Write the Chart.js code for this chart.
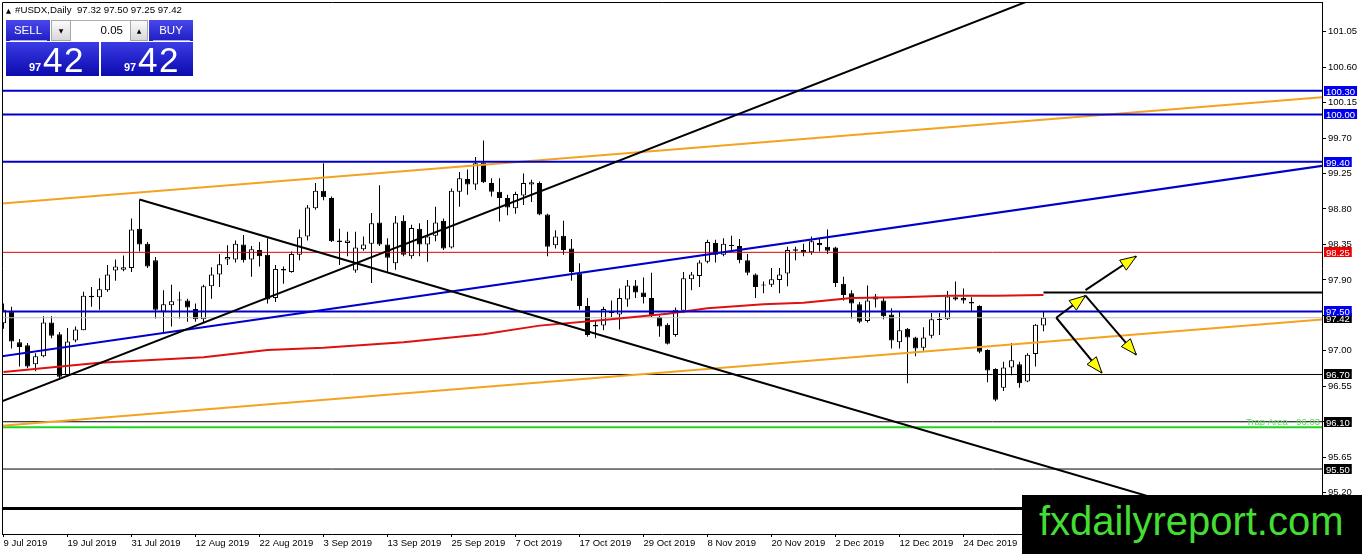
<!DOCTYPE html>
<html><head><meta charset="utf-8">
<script src="https://cdn.jsdelivr.net/npm/chart.js@4.4.1/dist/chart.umd.min.js"></script>
<style>
html,body{margin:0;padding:0;background:#fff;overflow:hidden;width:1362px;height:554px;position:relative;font-family:'Liberation Sans',Arial,sans-serif}
canvas{position:absolute;left:0;top:0}
.a{position:absolute;white-space:pre}
.btn{position:absolute;top:20px;height:21px;background:linear-gradient(#4848ec,#1e1ec2);color:#fff;font-size:11.5px;line-height:21px;text-align:center}
.btn:after{content:"";position:absolute;left:4px;right:3px;bottom:0;height:1px;background:#a4a4ff}
.spin{position:absolute;top:20px;height:21px;box-sizing:border-box;background:linear-gradient(#fbfbfb,#d8d8d8);border:1px solid #a8a8a8;font-family:'DejaVu Sans';font-size:6px;line-height:19px;text-align:center;color:#000}
.big{position:absolute;top:42px;height:34px;background:linear-gradient(#3c3ce6,#0a0aae);color:#fff}
.sm{position:absolute;top:20.3px;font-weight:bold;font-size:11px;line-height:11px}
.lg{position:absolute;top:0.1px;font-size:35px;line-height:35px;letter-spacing:1.5px}
</style></head>
<body>
<canvas id="c" width="1362" height="554"></canvas>

<div class="a" style="left:6px;top:7.5px;font-family:'DejaVu Sans';font-size:6.5px;line-height:7px">▲</div>
<div class="a" style="left:15px;top:4.4px;font-size:9.7px;line-height:11px;color:#000">#USDX,Daily  97.32 97.50 97.25 97.42</div>

<div class="btn" style="left:6px;width:44px">SELL</div>
<div class="spin" style="left:51px;width:20px">▼</div>
<div class="a" style="left:71px;top:20px;width:59px;height:21px;background:#fff;border-top:1px solid #b0b0b0;box-sizing:border-box;font-size:11.5px;line-height:19px;text-align:right;padding-right:7px;color:#000">0.05</div>
<div class="spin" style="left:130px;width:18px">▲</div>
<div class="btn" style="left:149px;width:44px">BUY</div>

<div class="big" style="left:6px;width:93px"><span class="sm" style="left:23px">97</span><span class="lg" style="left:37px">42</span></div>
<div class="big" style="left:101px;width:92px"><span class="sm" style="left:23px">97</span><span class="lg" style="left:37px">42</span></div>

<div class="a" style="left:1022px;top:495px;width:340px;height:59px;background:#000;overflow:hidden">
  <span class="a" style="left:17px;top:6.1px;font-size:40px;line-height:40px;color:#44dd33">fxdailyreport.com</span>
</div>

<script>
// ---------- DATA ----------
const tickBars = [0, 8, 16, 24, 32, 40, 48, 56, 64, 72, 80, 88, 96, 104, 112, 120];
const tickLabels = ["9 Jul 2019","19 Jul 2019","31 Jul 2019","12 Aug 2019","22 Aug 2019","3 Sep 2019","13 Sep 2019","25 Sep 2019","7 Oct 2019","17 Oct 2019","29 Oct 2019","8 Nov 2019","20 Nov 2019","2 Dec 2019","12 Dec 2019","24 Dec 2019"];
const priceTicks = [95.20, 95.65, 96.10, 96.55, 97.00, 97.45, 97.90, 98.35, 98.80, 99.25, 99.70, 100.15, 100.60, 101.05];

const open = [97.35,97.50,97.11,97.07,96.83,96.93,97.36,97.21,96.69,97.13,
97.26,97.70,97.68,97.77,98.02,98.03,98.05,98.55,98.36,98.15,
97.50,97.58,97.65,97.64,97.53,97.40,97.82,97.97,98.16,98.16,
98.35,98.16,98.28,98.22,97.67,98.02,98.00,98.22,98.45,98.81,
99.03,98.94,98.40,98.37,98.02,98.29,98.36,98.63,98.35,98.11,
98.65,98.20,98.55,98.35,98.46,98.65,98.31,99.02,99.18,99.11,
99.39,99.13,99.02,98.94,98.81,98.97,99.11,99.13,98.73,98.34,
98.46,98.30,97.98,97.57,97.31,97.32,97.50,97.46,97.65,97.83,
97.74,97.67,97.43,97.33,97.20,97.51,97.91,97.95,98.13,98.37,
98.22,98.34,98.33,98.15,97.97,97.84,97.84,97.90,97.98,98.27,
98.28,98.25,98.37,98.32,98.31,97.85,97.73,97.59,97.38,97.69,
97.64,97.46,97.11,97.28,97.17,97.04,97.19,97.40,97.40,97.68,
97.67,97.62,97.57,97.01,96.77,96.53,96.79,96.83,96.61,96.96,
97.32];
const high = [97.60,97.56,97.15,97.10,96.97,97.44,97.44,97.24,97.29,97.31,
97.75,97.81,97.92,98.09,98.16,98.21,98.68,98.92,98.38,98.19,
97.77,97.84,97.75,97.66,97.60,97.84,98.06,98.23,98.34,98.40,
98.47,98.33,98.38,98.43,98.09,98.07,98.26,98.54,98.85,99.13,
99.38,98.96,98.55,98.51,98.51,98.45,98.75,99.10,98.43,98.71,
98.72,98.60,98.62,98.66,98.83,98.68,99.06,99.27,99.30,99.46,
99.67,99.19,99.19,98.98,99.02,99.25,99.17,99.15,98.74,98.53,
98.65,98.42,98.11,97.67,97.39,97.56,97.64,97.79,97.90,97.90,
97.93,97.99,97.45,97.35,97.55,98.00,98.00,98.15,98.41,98.41,
98.43,98.46,98.42,98.23,97.98,97.88,98.05,98.05,98.32,98.32,
98.36,98.45,98.43,98.54,98.32,97.94,97.77,97.62,97.83,97.72,
97.67,97.54,97.50,97.29,97.18,97.30,97.48,97.48,97.76,97.88,
97.79,97.68,97.58,97.02,96.78,96.86,97.10,96.86,96.97,97.34,
97.50];
const low = [97.28,97.03,96.80,96.78,96.74,96.92,97.16,96.64,96.67,97.11,
97.26,97.56,97.52,97.75,97.89,98.01,98.00,98.26,98.05,97.41,
97.24,97.31,97.41,97.37,97.37,97.35,97.66,97.81,98.09,98.12,
98.12,97.94,98.07,97.60,97.62,97.85,97.99,98.15,98.40,98.79,
98.91,98.38,98.09,98.20,97.99,98.27,97.86,98.33,98.00,98.03,
98.20,98.17,98.20,98.13,98.39,98.28,98.30,98.83,98.98,99.04,
99.13,98.96,98.64,98.72,98.74,98.85,98.89,98.72,98.20,98.30,
98.22,97.89,97.52,97.18,97.16,97.26,97.43,97.27,97.56,97.67,
97.60,97.43,97.18,97.08,97.18,97.48,97.77,97.81,98.11,98.12,
98.20,98.26,98.11,97.96,97.67,97.73,97.81,97.73,97.82,98.15,
98.20,98.22,98.26,98.23,97.81,97.64,97.41,97.35,97.36,97.55,
97.40,97.03,97.03,96.59,96.93,97.00,97.16,97.20,97.39,97.64,
97.60,97.50,96.97,96.60,96.36,96.49,96.69,96.53,96.60,96.80,
97.25];
const close = [97.52,97.12,97.05,96.80,96.93,97.36,97.19,96.67,97.12,97.27,
97.70,97.68,97.78,97.97,98.07,98.06,98.54,98.35,98.07,97.52,
97.59,97.63,97.64,97.55,97.40,97.82,97.97,98.10,98.19,98.36,
98.15,98.29,98.20,97.65,98.04,98.04,98.23,98.44,98.82,99.03,
98.95,98.39,98.38,98.40,98.31,98.35,98.62,98.35,98.18,98.63,
98.22,98.56,98.35,98.45,98.63,98.30,99.03,99.19,99.11,99.38,
99.14,99.02,98.94,98.82,98.99,99.13,99.14,98.73,98.32,98.45,
98.28,98.00,97.57,97.20,97.33,97.53,97.48,97.67,97.83,97.74,
97.68,97.45,97.31,97.09,97.52,97.92,97.97,98.12,98.38,98.22,
98.36,98.33,98.15,97.99,97.81,97.83,97.91,97.97,98.28,98.29,
98.25,98.39,98.34,98.27,97.86,97.71,97.60,97.37,97.64,97.65,
97.44,97.13,97.26,97.17,97.03,97.17,97.40,97.39,97.69,97.65,
97.64,97.60,96.99,96.75,96.38,96.79,96.88,96.59,96.95,97.33,
97.42];

// moving average read at sample bars
const maBars = [0, 12, 25, 33, 40, 50, 60, 67, 75, 83, 88, 95, 100, 106, 112, 118, 124, 130];
const maVals = [96.73, 96.85, 96.92, 97.01, 97.04, 97.11, 97.21, 97.32, 97.39, 97.47, 97.54, 97.59, 97.61, 97.67, 97.68, 97.70, 97.70, 97.71];

// trend lines: [bar1, price1, bar2, price2]
const orangeUpper = [-0.2, 98.87, 165, 100.22];
const orangeLower = [-0.2, 96.05, 165, 97.40];
const blueTrend   = [-0.2, 96.93, 165, 99.35];
const blackRise   = [-0.2, 96.36, 165, 102.90];
const blackFall   = [17, 98.92, 165, 94.50];
const blackRay    = [130, 97.74, 165, 97.74];

// horizontal levels
const blueLevels  = [100.30, 100.00, 99.40, 97.50];
const redLevel    = 98.25;
const bidLevel    = 97.42;
const blackLevels = [96.70, 96.10, 95.50];
const thickLevel  = 95.00;
const trapLevel   = 96.03;
const trapText    = "Trap Area - 96.03";

// arrows: [bar1, price1, bar2, price2]
const arrows = [
  [135.25, 97.77, 141.6, 98.20],
  [131.6, 97.42, 135.25, 97.70],
  [135.25, 97.70, 141.6, 96.95],
  [131.6, 97.42, 137.3, 96.72]
];

// boxed axis labels
const boxPrices = [97.42, 100.30, 100.00, 99.40, 98.25, 97.50, 96.70, 96.10, 95.50];
const boxColors = ['#000000', '#0000ee', '#0000ee', '#0000ee', '#ee0000', '#0000ee', '#000000', '#000000', '#000000'];

// ---------- CHART ----------
const XMIN = -0.1875, XMAX = 164.8125;
const YMIN = 94.6756, YMAX = 101.4269;

const seg = a => [{x: a[0], y: a[1]}, {x: a[2], y: a[3]}];
const hline = p => [{x: XMIN - 1, y: p}, {x: XMAX + 1, y: p}];
const lineDs = (data, color, width, order) => ({type: 'line', data, borderColor: color, borderWidth: width, pointRadius: 0, tension: 0, fill: false, order});

const idx = open.map((_, i) => i);
const datasets = [];
datasets.push({type: 'bar', data: idx.map(i => ({x: i, y: [low[i], high[i]]})), backgroundColor: '#000', borderWidth: 0, barThickness: 1, minBarLength: 1, grouped: false, inflateAmount: 0, order: 20});
datasets.push({type: 'bar', data: idx.map(i => ({x: i, y: [open[i], close[i]]})), backgroundColor: idx.map(i => close[i] >= open[i] ? '#ffffff' : '#000000'), borderColor: '#000', borderWidth: 1, borderSkipped: false, barThickness: 5, minBarLength: 1, grouped: false, inflateAmount: 0, order: 19});

datasets.push(lineDs(hline(bidLevel), '#c0c0c0', 1, 10));
datasets.push(lineDs(hline(redLevel), '#dd0000', 1, 9));
blackLevels.forEach(p => datasets.push(lineDs(hline(p), '#000000', 1, 9)));
datasets.push(lineDs(hline(thickLevel), '#000000', 3, 9));
datasets.push(lineDs(hline(trapLevel), '#1fd41f', 2, 9));
datasets.push(lineDs(maBars.map((b, i) => ({x: b, y: maVals[i]})), '#dd1111', 2, 8));
datasets.push(lineDs(seg(blackRay), '#000000', 2, 8));
datasets.push(lineDs(seg(orangeUpper), '#f3a320', 2, 7));
datasets.push(lineDs(seg(orangeLower), '#f3a320', 2, 7));
blueLevels.forEach(p => datasets.push(lineDs(hline(p), '#0000cc', 2, 6)));
datasets.push(lineDs(seg(blueTrend), '#0000cc', 2, 6));
datasets.push(lineDs(seg(blackRise), '#000000', 2, 5));
datasets.push(lineDs(seg(blackFall), '#000000', 2, 5));
arrows.forEach(a => { const d = lineDs(seg(a), '#000000', 2, 1); d.arrow = true; datasets.push(d); });

const overlay = {
  id: 'overlay',
  afterDatasetsDraw(chart) {
    const ctx = chart.ctx;
    chart.data.datasets.forEach((ds, i) => {
      if (!ds.arrow) return;
      const m = chart.getDatasetMeta(i);
      const a = m.data[0], b = m.data[1];
      const ang = Math.atan2(b.y - a.y, b.x - a.x);
      const L = 16, W = 6;
      const bx = b.x - L * Math.cos(ang), by = b.y - L * Math.sin(ang);
      ctx.save();
      ctx.beginPath();
      ctx.moveTo(b.x, b.y);
      ctx.lineTo(bx + W * Math.sin(ang), by - W * Math.cos(ang));
      ctx.lineTo(bx - W * Math.sin(ang), by + W * Math.cos(ang));
      ctx.closePath();
      ctx.fillStyle = '#ffff00';
      ctx.fill();
      ctx.lineWidth = 1;
      ctx.strokeStyle = '#000';
      ctx.stroke();
      ctx.restore();
    });
  },
  afterDraw(chart) {
    const {ctx, chartArea: ca} = chart;
    const y = chart.scales.y;
    ctx.save();
    ctx.strokeStyle = '#000';
    ctx.lineWidth = 1;
    ctx.beginPath();
    ctx.moveTo(ca.left + 0.5, ca.bottom);
    ctx.lineTo(ca.left + 0.5, ca.top + 0.5);
    ctx.lineTo(ca.right, ca.top + 0.5);
    ctx.stroke();
    ctx.font = "9.5px 'Liberation Sans', Arial, sans-serif";
    ctx.fillStyle = '#5ad85a';
    ctx.textAlign = 'right';
    ctx.textBaseline = 'alphabetic';
    ctx.fillText(trapText, ca.right - 2, y.getPixelForValue(trapLevel) - 2.5);
    ctx.textAlign = 'left';
    boxPrices.forEach((p, i) => {
      const yc = Math.round(y.getPixelForValue(p));
      const t = p.toFixed(2);
      const w = ctx.measureText(t).width;
      ctx.fillStyle = boxColors[i];
      ctx.fillRect(ca.right + 2, yc - 5, w + 4, 10);
      ctx.fillStyle = '#fff';
      ctx.fillText(t, ca.right + 4, yc + 3.5);
    });
    ctx.restore();
  }
};

Chart.defaults.font.family = "'Liberation Sans', Arial, sans-serif";
Chart.defaults.font.size = 9.5;
Chart.defaults.color = '#000';

new Chart(document.getElementById('c'), {
  type: 'line',
  data: {datasets},
  options: {
    responsive: false,
    animation: false,
    devicePixelRatio: 1,
    events: [],
    layout: {padding: {left: 2, top: 2, right: 0, bottom: 0}},
    plugins: {legend: {display: false}, tooltip: {enabled: false}},
    scales: {
      x: {
        type: 'linear', min: XMIN, max: XMAX, offset: false,
        afterFit: s => { s.height = 20; s.paddingLeft = 0; s.paddingRight = 0; },
        afterBuildTicks: s => { s.ticks = tickBars.map(v => ({value: v})); },
        ticks: {align: 'start', autoSkip: false, maxRotation: 0, minRotation: 0, padding: 1,
          callback: v => { const j = tickBars.indexOf(v); return j >= 0 ? tickLabels[j] : ''; }},
        grid: {drawOnChartArea: false, drawTicks: true, tickLength: 3, color: '#000', offset: false},
        border: {display: true, color: '#000', width: 1}
      },
      y: {
        type: 'linear', position: 'right', min: YMIN, max: YMAX, beginAtZero: false,
        afterFit: s => { s.width = 40; s.paddingTop = 0; s.paddingBottom = 0; },
        afterBuildTicks: s => { s.ticks = priceTicks.map(v => ({value: v})); },
        ticks: {padding: 2, callback: v => Number(v).toFixed(2)},
        grid: {drawOnChartArea: false, drawTicks: true, tickLength: 4, color: '#000'},
        border: {display: true, color: '#000', width: 1}
      }
    }
  },
  plugins: [overlay]
});
</script>
</body></html>
